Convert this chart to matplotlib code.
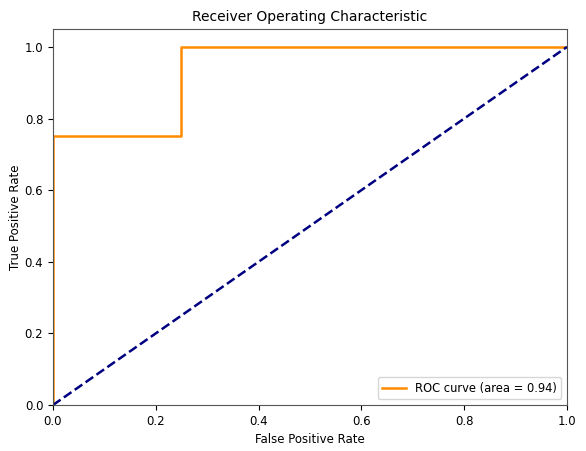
import matplotlib
matplotlib.use("Agg")
import matplotlib.pyplot as plt

fpr = [0.0, 0.0, 0.25, 0.25, 1.0]
tpr = [0.0, 0.75, 0.75, 1.0, 1.0]
roc_auc = 0.94
chance = [0.0, 1.0]

fig = plt.figure(figsize=(5.86, 4.51), dpi=100)
ax = fig.add_axes([0.0904, 0.102, 0.8772, 0.8337])
ax.plot(fpr, tpr, color='darkorange', lw=1.8, label='ROC curve (area = %0.2f)' % roc_auc)
ax.plot(chance, chance, color='navy', lw=1.8, linestyle='--')
ax.set_xlim([0.0, 1.0])
ax.set_ylim([0.0, 1.05])
ax.set_xlabel('False Positive Rate', fontsize=8.5)
ax.set_ylabel('True Positive Rate', fontsize=8.5, labelpad=2)
ax.set_title('Receiver Operating Characteristic', fontsize=10)
ax.tick_params(labelsize=8.5)
for s in ax.spines.values():
    s.set_color('#555555')
ax.legend(loc="lower right", fontsize=8.3)
fig.savefig("out.png", dpi=100)
